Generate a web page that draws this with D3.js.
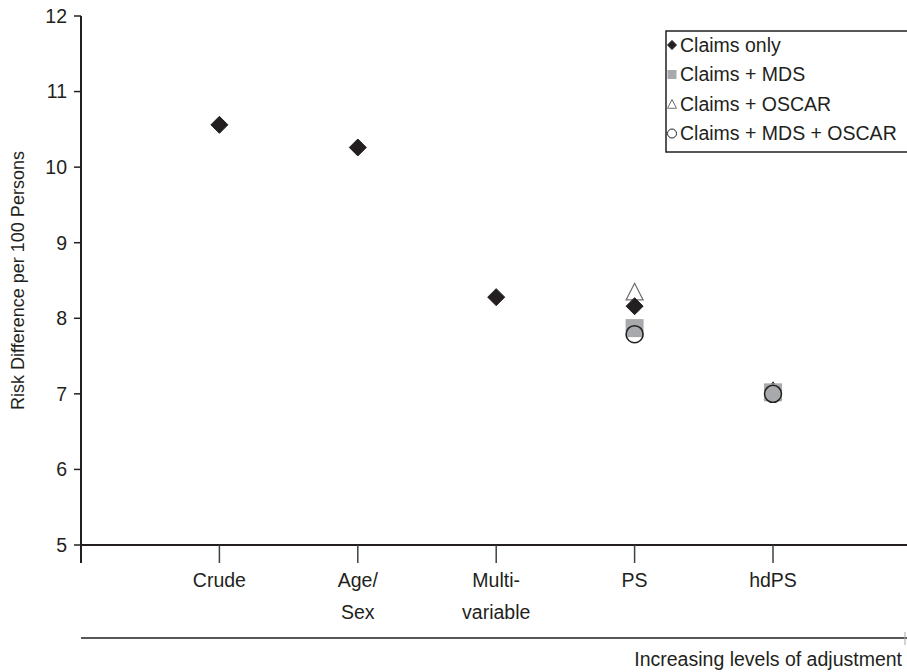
<!DOCTYPE html>
<html>
<head>
<meta charset="utf-8">
<script src="https://d3js.org/d3.v7.min.js"></script>
<style>
  body { margin: 0; background: #fff; }
  text { font-family: "Liberation Sans", Arial, sans-serif; fill: #231f20; }
</style>
</head>
<body>
<div id="chart"></div>
<script>
// data
const categories = ["Crude", "Age/\nSex", "Multi-\nvariable", "PS", "hdPS"];
const claimsOnly     = [10.56, 10.26, 8.28, 8.16, 7.04];
const claimsMds      = [null, null, null, 7.87, 7.02];
const claimsOscar    = [null, null, null, 8.35, 7.04];
const claimsMdsOscar = [null, null, null, 7.79, 7.00];
const seriesNames = ["Claims only", "Claims + MDS", "Claims + OSCAR", "Claims + MDS + OSCAR"];
const yTicks = [5, 6, 7, 8, 9, 10, 11, 12];

let width = 907, height = 672;
let svg = d3.select("#chart").append("svg")
  .attr("width", width).attr("height", height);

let xScale = d3.scaleLinear().domain([0, 6]).range([81, 911.4]);
let yScale = d3.scaleLinear().domain([5, 12]).range([545, 16]);

// marker shapes, r = half size in px
function shapePath(kind, r) {
  if (kind == "diamond") return `M0,${-r}L${r},0L0,${r}L${-r},0Z`;
  if (kind == "square") return `M${-r},${-r}H${r}V${r}H${-r}Z`;
  if (kind == "triangle") return `M0,${-r}L${r},${r*0.95}L${-r},${r*0.95}Z`;
  return d3.arc()({innerRadius: 0, outerRadius: r, startAngle: 0, endAngle: 2 * Math.PI});
}
const styles = {
  "Claims only":          {kind: "diamond",  fill: "#231f20", stroke: "#231f20", sw: 1,   r: 8.5, lr: 4.5},
  "Claims + MDS":         {kind: "square",   fill: "#a7a9ac", stroke: "none",    sw: 0,   r: 9,   lr: 4.5},
  "Claims + OSCAR":       {kind: "triangle", fill: "#fff",    stroke: "#6d6e71", sw: 1.2, r: 8.5, lr: 4.5},
  "Claims + MDS + OSCAR": {kind: "circle",   fill: "none",    stroke: "#231f20", sw: 1.5, r: 8.5, lr: 4.5}
};
const seriesValues = [claimsOnly, claimsMds, claimsOscar, claimsMdsOscar];

// y axis
svg.append("line")
  .attr("x1", xScale(0)).attr("x2", xScale(0))
  .attr("y1", yScale(12)).attr("y2", 563)
  .attr("stroke", "#231f20").attr("stroke-width", 2);
let yt = svg.append("g").selectAll("g").data(yTicks).enter().append("g")
  .attr("transform", d => `translate(0,${yScale(d)})`);
yt.append("line").attr("x1", 74).attr("x2", 81)
  .attr("stroke", "#231f20").attr("stroke-width", 1.5);
yt.append("text").attr("x", 67).attr("dy", "0.35em")
  .attr("text-anchor", "end").style("font-size", "19.5px")
  .text(d => d);

svg.append("text")
  .attr("transform", `translate(24,${(yScale(5) + yScale(12)) / 2}) rotate(-90)`)
  .attr("text-anchor", "middle").style("font-size", "18px")
  .text("Risk Difference per 100 Persons");

// x axis
svg.append("line")
  .attr("x1", xScale(0)).attr("x2", width)
  .attr("y1", yScale(5)).attr("y2", yScale(5))
  .attr("stroke", "#231f20").attr("stroke-width", 2);
let xt = svg.append("g").selectAll("g").data(categories).enter().append("g")
  .attr("transform", (d, i) => `translate(${xScale(i + 1)},0)`);
xt.append("line").attr("y1", yScale(5)).attr("y2", 563)
  .attr("stroke", "#414042").attr("stroke-width", 1.5);
xt.each(function(d) {
  let lines = d.split("\n");
  let t = d3.select(this).append("text").attr("text-anchor", "middle")
    .style("font-size", "19.5px");
  lines.forEach((l, k) => {
    t.append("tspan").attr("x", 0).attr("y", 587 + k * 32).text(l);
  });
});

// bottom "arrow" line
svg.append("line")
  .attr("x1", xScale(0)).attr("x2", width)
  .attr("y1", 638).attr("y2", 638)
  .attr("stroke", "#231f20").attr("stroke-width", 1.5);
svg.append("line")
  .attr("x1", 905).attr("x2", 905).attr("y1", 632).attr("y2", 645)
  .attr("stroke", "#a7a9ac").attr("stroke-width", 1);
svg.append("text")
  .attr("x", 902).attr("y", 666).attr("text-anchor", "end")
  .style("font-size", "19.5px")
  .text("Increasing levels of adjustment");

// points, drawn triangle, diamond, square, circle
const drawOrder = [2, 0, 1, 3];
drawOrder.forEach(si => {
  let name = seriesNames[si];
  let st = styles[name];
  let pts = seriesValues[si].map((v, i) => ({i: i, v: v})).filter(p => p.v != null);
  svg.append("g").selectAll("path").data(pts).enter().append("path")
    .attr("transform", p => `translate(${xScale(p.i + 1)},${yScale(p.v)})`)
    .attr("d", shapePath(st.kind, st.r))
    .attr("fill", st.fill).attr("stroke", st.stroke).attr("stroke-width", st.sw);
});

// legend
let legend = svg.append("g");
legend.append("rect")
  .attr("x", 666).attr("y", 31).attr("width", 260).attr("height", 121)
  .attr("fill", "#fff").attr("stroke", "#231f20").attr("stroke-width", 1.5);
seriesNames.forEach((name, k) => {
  let st = styles[name];
  let cy = 45 + k * 29.5;
  legend.append("path")
    .attr("transform", `translate(672,${cy})`)
    .attr("d", shapePath(st.kind, st.lr))
    .attr("fill", st.fill).attr("stroke", st.stroke).attr("stroke-width", st.sw > 0 ? 1 : 0);
  legend.append("text").attr("x", 680).attr("y", cy).attr("dy", "0.35em")
    .style("font-size", "19.5px").text(name);
});
</script>
</body>
</html>
